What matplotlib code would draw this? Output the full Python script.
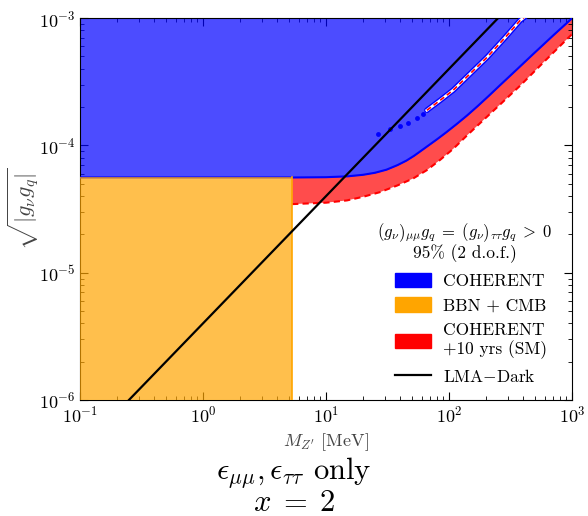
import numpy as np
import matplotlib
matplotlib.use("Agg")
import matplotlib.pyplot as plt
from matplotlib.patches import Patch
from matplotlib.lines import Line2D

plt.rcParams['font.family'] = 'serif'
plt.rcParams['font.serif'] = ['cmr10', 'DejaVu Serif']
plt.rcParams['mathtext.fontset'] = 'cm'
plt.rcParams['axes.formatter.use_mathtext'] = True
plt.rcParams['axes.unicode_minus'] = False

# COHERENT 95% boundary (excluded above)
coh_M = [0.1, 1, 5.3, 10, 15, 20, 25, 31, 38, 45, 52, 58, 68, 80, 95, 116, 140, 170,
         210, 260, 360, 480, 700, 1000]
coh_g = [5.6e-5, 5.6e-5, 5.6e-5, 5.63e-5, 5.72e-5, 5.88e-5, 6.1e-5, 6.45e-5, 7.0e-5,
         7.6e-5, 8.3e-5, 8.95e-5, 1.0e-4, 1.12e-4, 1.27e-4, 1.48e-4, 1.72e-4, 2.03e-4,
         2.45e-4, 2.98e-4, 4.0e-4, 5.2e-4, 7.3e-4, 1.0e-3]
# COHERENT +10 yrs (SM) boundary
fut_M = [5.3, 10, 14.8, 20, 27.5, 38, 51, 66, 84.5, 108, 140, 179, 260, 378, 626, 1000]
fut_g = [3.46e-5, 3.55e-5, 3.7e-5, 3.95e-5, 4.3e-5, 4.85e-5, 5.5e-5, 6.4e-5, 7.7e-5,
         9.4e-5, 1.2e-4, 1.5e-4, 2.1e-4, 2.95e-4, 4.8e-4, 7.5e-4]
# allowed narrow island inside COHERENT region
isl_M = [66, 85, 108, 150, 204, 280, 378, 420]
isl_g = [1.89e-4, 2.27e-4, 2.72e-4, 3.7e-4, 4.94e-4, 6.9e-4, 9.6e-4, 1.04e-3]
# small contour fragments
frag_M = [26.5, 33, 40, 46.5, 55, 61.5]
frag_g = [1.24e-4, 1.34e-4, 1.42e-4, 1.5e-4, 1.64e-4, 1.76e-4]
# BBN + CMB bound
bbn_M = [0.1, 5.3]
bbn_g = 5.6e-5
# LMA-Dark line
lma_M = [0.25, 250]
lma_g = [1e-6, 1e-3]

xmin, xmax = 0.1, 1000
ymin, ymax = 1e-6, 1e-3

fig = plt.figure(figsize=(5.88, 5.16), dpi=100)
ax = fig.add_axes([0.136, 0.2248, 0.837, 0.740])
ax.set_xscale('log')
ax.set_yscale('log')

# red future region between future line and current COHERENT line
cM = np.array(coh_M); cg = np.array(coh_g)
mask = cM >= fut_M[0]
poly_x = np.concatenate([fut_M, cM[mask][::-1]])
poly_y = np.concatenate([fut_g, cg[mask][::-1]])
ax.fill(poly_x, poly_y, color='red', alpha=0.7, lw=0, zorder=1)
ax.plot(fut_M, fut_g, color='red', ls=(0, (3, 2)), lw=1.5, zorder=3)

# blue COHERENT region
ax.fill_between(coh_M, coh_g, ymax, color='blue', alpha=0.7, lw=0, zorder=2)
ax.plot(coh_M, coh_g, color='blue', lw=1.5, zorder=3)

# island
ax.plot(isl_M, isl_g, color='blue', lw=4, zorder=4, solid_capstyle='round')
ax.plot(isl_M, isl_g, color='white', lw=2.0, zorder=5)
ax.plot(isl_M, isl_g, color='red', lw=1.2, ls=(0, (3, 2)), zorder=6)
ax.plot(frag_M, frag_g, ls='none', marker='o', ms=3.5, mew=0, color='blue', zorder=4)

# BBN + CMB
ax.fill_between(bbn_M, ymin, bbn_g, color='orange', alpha=0.7, lw=0, zorder=5)
ax.plot([bbn_M[1], bbn_M[1]], [ymin, bbn_g], color='orange', lw=1.2, zorder=5)

# LMA-Dark
ax.plot(lma_M, lma_g, color='black', lw=1.6, zorder=7)

ax.set_xlim(xmin, xmax)
ax.set_ylim(ymin, ymax)
ax.tick_params(which='both', direction='in', top=True, right=True, labelsize=13)
ax.tick_params(which='major', length=6)
ax.tick_params(which='minor', length=3)
ax.set_xlabel(r"$M_{Z'}$ [MeV]", fontsize=13, color='#444444', labelpad=4)
ax.set_ylabel(r"$\sqrt{|g_\nu g_q|}$", fontsize=16, color='#444444', labelpad=-2)

ax.text(0.7825, 0.438, r"$(g_\nu)_{\mu\mu}g_q \;=\; (g_\nu)_{\tau\tau}g_q \;>\; 0$",
        transform=ax.transAxes, ha='center', va='center', fontsize=12, zorder=10)
ax.text(0.7825, 0.383, "95% (2 d.o.f.)", transform=ax.transAxes, ha='center',
        va='center', fontsize=12.5, zorder=10)

handles = [Patch(color='blue'), Patch(color='orange'), Patch(color='red'),
           Line2D([], [], color='black', lw=1.6)]
labels = ["COHERENT", "BBN + CMB", "COHERENT\n+10 yrs (SM)", "LMA$-$Dark"]
leg = ax.legend(handles, labels, loc='upper left', bbox_to_anchor=(0.625, 0.352),
                borderaxespad=0, frameon=False, fontsize=12.5, handlelength=2.1,
                handleheight=0.9, labelspacing=0.5, handletextpad=0.7)
leg.set_zorder(10)

fig.text(0.5, 0.085, r"$\epsilon_{\mu\mu}, \epsilon_{\tau\tau}$ only", ha='center',
         va='center', fontsize=22)
fig.text(0.5, 0.025, r"$x \;=\; 2$", ha='center', va='center', fontsize=22)

fig.savefig("out.png", dpi=100)
